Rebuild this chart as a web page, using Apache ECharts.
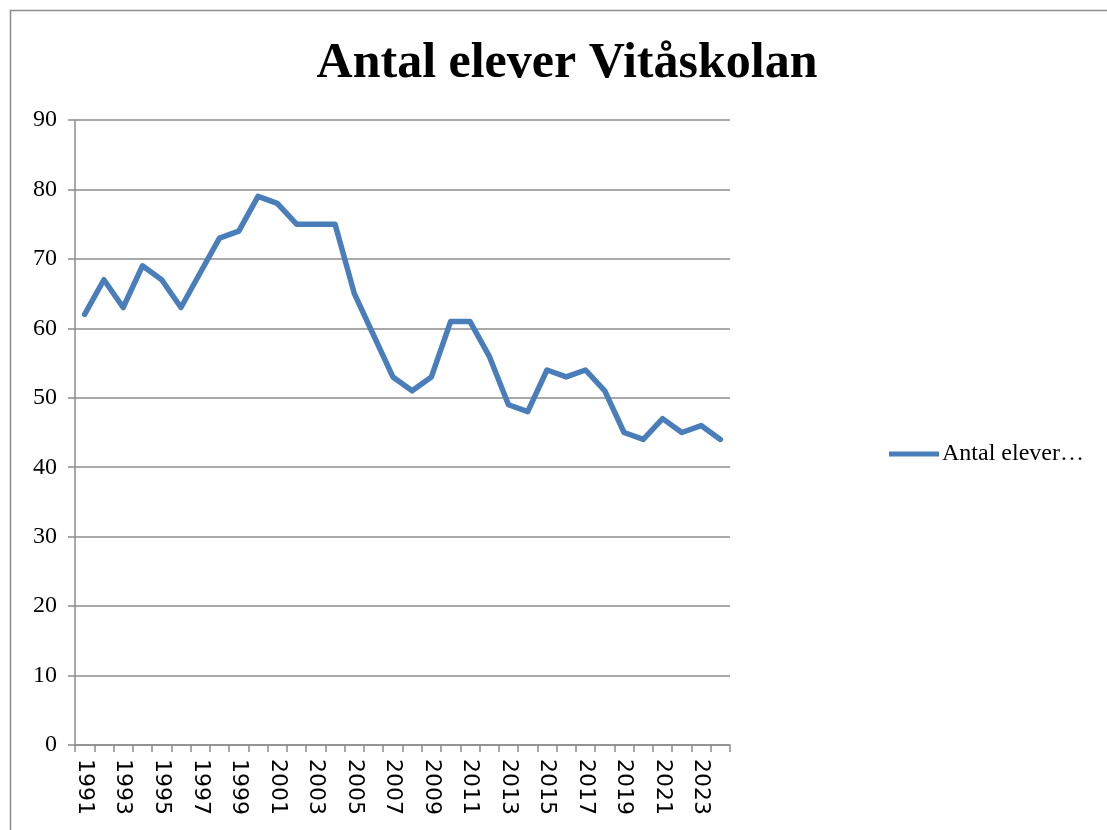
<!DOCTYPE html>
<html>
<head>
<meta charset="utf-8">
<script src="https://cdn.jsdelivr.net/npm/echarts@6/dist/echarts.min.js"></script>
<style>
	*{
		margin:0px;
		padding:0px;
	}
	body{
		background: white;
	}
</style>
</head>
<body>
<div id="main" style="width: 1107px;height:830px;"></div>
<script type="text/javascript">
var years = ['1991','1992','1993','1994','1995','1996','1997','1998','1999','2000',
	'2001','2002','2003','2004','2005','2006','2007','2008','2009','2010',
	'2011','2012','2013','2014','2015','2016','2017','2018','2019','2020',
	'2021','2022','2023','2024'];
var elever = [62,67,63,69,67,63,68,73,74,79,
	78,75,75,75,65,59,53,51,53,61,
	61,56,49,48,54,53,54,51,45,44,
	47,45,46,44];
var seriesName = 'Antal elever Vitåskolan';

var serif = '"Liberation Serif", "DejaVu Serif", serif';
var myChart = echarts.init(document.getElementById('main'));

myChart.setOption({
	animation: false,
	title: {
		text: 'Antal elever Vitåskolan',
		left: 562,
		textAlign: 'center',
		top: 34,
		textStyle: {
			fontFamily: serif,
			fontWeight: 'bold',
			fontSize: 50,
			color: '#000'
		}
	},
	graphic: [{
		type: 'rect',
		shape: {x: 10.5, y: 10.5, width: 1120, height: 840},
		style: {fill: 'none', stroke: '#8c8c8c', lineWidth: 1.5}
	}],
	legend: {
		left: 884,
		top: 437,
		icon: 'path://M0,0 L10,0 L10,1 L0,1 Z',
		itemWidth: 54,
		itemHeight: 5,
		itemGap: 0,
		formatter: function () { return 'Antal elever…'; },
		textStyle: {
			fontFamily: serif,
			fontSize: 24,
			color: '#000',
			padding: [0, 0, 0, -4]
		}
	},
	grid: {
		left: 75,
		right: 377,
		top: 120,
		bottom: 85,
		containLabel: false
	},
	xAxis: {
		type: 'category',
		data: years,
		boundaryGap: true,
		axisLine: {lineStyle: {color: '#8c8c8c', width: 1.5}},
		axisTick: {show: true, interval: 0, length: 7, lineStyle: {color: '#8c8c8c', width: 1.5}},
		axisLabel: {
			interval: 1,
			rotate: -90,
			margin: 14,
			fontFamily: '"DejaVu Sans", sans-serif',
			fontSize: 22,
			color: '#000'
		}
	},
	yAxis: {
		type: 'value',
		min: 0,
		max: 90,
		interval: 10,
		axisLine: {show: true, lineStyle: {color: '#8c8c8c', width: 1.5}},
		axisTick: {show: true, length: 7, lineStyle: {color: '#8c8c8c', width: 1.5}},
		splitLine: {lineStyle: {color: '#8c8c8c', width: 1.5}},
		axisLabel: {
			margin: 18,
			fontFamily: serif,
			fontSize: 24,
			color: '#000'
		}
	},
	series: [{
		name: seriesName,
		type: 'line',
		data: elever,
		symbol: 'none',
		lineStyle: {color: '#4a7ebb', width: 5.5, join: 'round', cap: 'round'},
		itemStyle: {color: '#4a7ebb'}
	}]
});
</script>
</body>
</html>
